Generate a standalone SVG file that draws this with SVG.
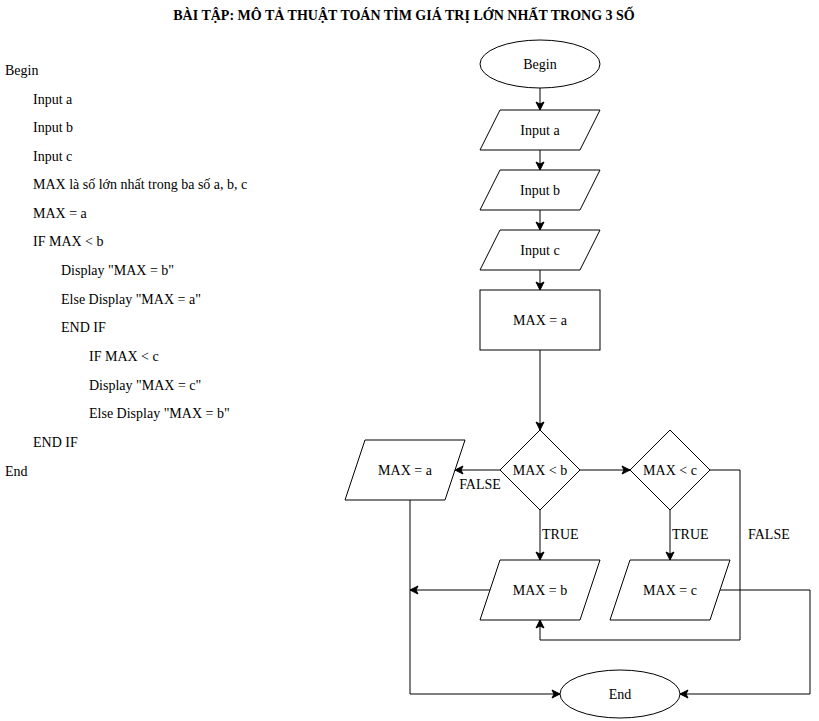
<svg xmlns="http://www.w3.org/2000/svg" width="819" height="721" viewBox="0 0 819 721">
  <style>
    text { font-family: "Liberation Serif", "Times New Roman", serif; font-size: 14px; fill: #000; }
    .title { font-weight: bold; text-anchor: middle; }
    .c { text-anchor: middle; dominant-baseline: central; }
    .shape { fill: #fff; stroke: #000; stroke-width: 1; }
    .edge { fill: none; stroke: #000; stroke-width: 1; marker-end: url(#arrow); }
  </style>
  <defs>
    <marker id="arrow" viewBox="0 0 10 10" refX="9" refY="5" markerWidth="10" markerHeight="10" markerUnits="userSpaceOnUse" orient="auto">
      <path d="M1,1 L9,5 L1,9 L3,5 Z" fill="#000" stroke="#000" stroke-width="1"/>
    </marker>
  </defs>
  <rect width="819" height="721" fill="#fff"/>

  <text class="title" x="404" y="20">BÀI TẬP: MÔ TẢ THUẬT TOÁN TÌM GIÁ TRỊ LỚN NHẤT TRONG 3 SỐ</text>

  <!-- pseudocode -->
  <g id="pseudocode">
    <text x="5" y="75">Begin</text>
    <text x="33" y="104">Input a</text>
    <text x="33" y="132">Input b</text>
    <text x="33" y="161">Input c</text>
    <text x="33" y="189">MAX là số lớn nhất trong ba số a, b, c</text>
    <text x="33" y="218">MAX = a</text>
    <text x="33" y="246">IF MAX &lt; b</text>
    <text x="61" y="275">Display "MAX = b"</text>
    <text x="61" y="304">Else Display "MAX = a"</text>
    <text x="61" y="332">END IF</text>
    <text x="89" y="361">IF MAX &lt; c</text>
    <text x="89" y="390">Display "MAX = c"</text>
    <text x="89" y="418">Else Display "MAX = b"</text>
    <text x="33" y="447">END IF</text>
    <text x="5" y="476">End</text>
  </g>

  <!-- connectors -->
  <g id="connectors">
    <path class="edge" d="M540,88 L540,110"/>
    <path class="edge" d="M540,150 L540,170"/>
    <path class="edge" d="M540,210 L540,230"/>
    <path class="edge" d="M540,270 L540,290"/>
    <path class="edge" d="M540,350 L540,430"/>
    <path class="edge" d="M500,470 L455,470"/>
    <path class="edge" d="M580,470 L630,470"/>
    <path class="edge" d="M540,510 L540,560"/>
    <path class="edge" d="M670,510 L670,560"/>
    <path class="edge" d="M710,470 L740,470 L740,640 L540,640 L540,620"/>
    <path class="edge" d="M490,590 L410,590"/>
    <path class="edge" d="M410,500 L410,694 L560,694"/>
    <path class="edge" d="M720,590 L810,590 L810,694 L680,694"/>
    <text x="480" y="489" text-anchor="middle">FALSE</text>
    <text x="542" y="539">TRUE</text>
    <text x="672" y="539">TRUE</text>
    <text x="748" y="539">FALSE</text>
  </g>

  <g id="begin">
    <ellipse class="shape" cx="540" cy="64" rx="60" ry="24"/>
    <text class="c" x="540" y="64">Begin</text>
  </g>
  <g id="input-a">
    <polygon class="shape" points="500,110 600,110 580,150 480,150"/>
    <text class="c" x="540" y="130">Input a</text>
  </g>
  <g id="input-b">
    <polygon class="shape" points="500,170 600,170 580,210 480,210"/>
    <text class="c" x="540" y="190">Input b</text>
  </g>
  <g id="input-c">
    <polygon class="shape" points="500,230 600,230 580,270 480,270"/>
    <text class="c" x="540" y="250">Input c</text>
  </g>
  <g id="assign-a">
    <rect class="shape" x="480" y="290" width="120" height="60"/>
    <text class="c" x="540" y="320">MAX = a</text>
  </g>
  <g id="cond-b">
    <polygon class="shape" points="540,430 580,470 540,510 500,470"/>
    <text class="c" x="540" y="470">MAX &lt; b</text>
  </g>
  <g id="cond-c">
    <polygon class="shape" points="670,430 710,470 670,510 630,470"/>
    <text class="c" x="670" y="470">MAX &lt; c</text>
  </g>
  <g id="out-a">
    <polygon class="shape" points="365,440 465,440 445,500 345,500"/>
    <text class="c" x="405" y="470">MAX = a</text>
  </g>
  <g id="out-b">
    <polygon class="shape" points="500,560 600,560 580,620 480,620"/>
    <text class="c" x="540" y="590">MAX = b</text>
  </g>
  <g id="out-c">
    <polygon class="shape" points="630,560 730,560 710,620 610,620"/>
    <text class="c" x="670" y="590">MAX = c</text>
  </g>
  <g id="end">
    <ellipse class="shape" cx="620" cy="694" rx="60" ry="24"/>
    <text class="c" x="620" y="694">End</text>
  </g>
</svg>
